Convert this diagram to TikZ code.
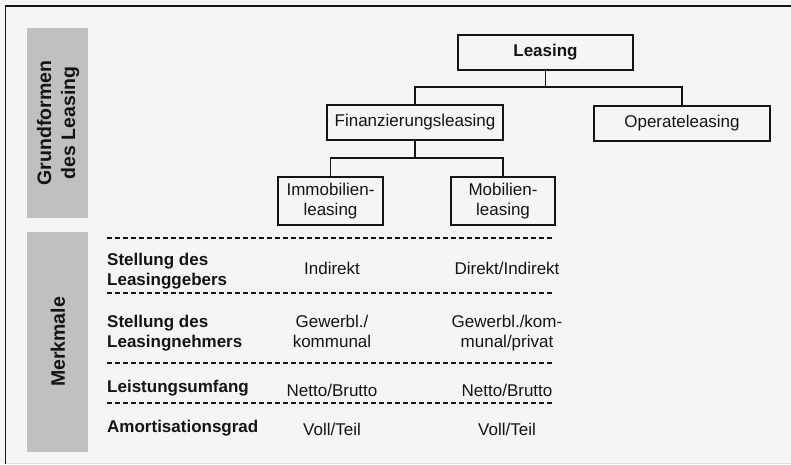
\documentclass[tikz,border=0pt]{standalone}
\usepackage{fontspec}
\setmainfont{Liberation Sans}
\usetikzlibrary{calc}
\definecolor{paper}{RGB}{245,245,245}
\definecolor{ink}{RGB}{20,20,20}
\definecolor{barfill}{RGB}{192,192,192}
\definecolor{faint}{RGB}{222,222,222}
\begin{document}
\begin{tikzpicture}[x=1pt,y=-1pt,
  txt/.style={font=\fontsize{17}{20}\selectfont, text=ink, inner sep=0pt, align=center},
  box/.style={txt, draw=ink, line width=1.3pt, rectangle, fill=paper},
  hd/.style={txt, font=\fontsize{17}{20}\selectfont\bfseries, align=left, anchor=west},
  side/.style={font=\fontsize{19.5}{24}\selectfont\bfseries, text=ink, rotate=90, align=center, inner sep=0pt},
  link/.style={draw=ink, line width=1.3pt},
  sep/.style={draw=ink, line width=1.4pt, dash pattern=on 5pt off 3pt},
]
% page and frame
\fill[paper] (0,0) rectangle (791,464);
\useasboundingbox (0,0) rectangle (791,464);
\draw[faint, line width=1pt] (5.5,463.5) -- (791,463.5);
\draw[ink, line width=1.8pt] (5.5,464) -- (5.5,5.8) -- (791,5.8);

% side bars
\fill[barfill] (27,28) rectangle (88,218);
\fill[barfill] (27,232) rectangle (88,452);
\node[side] (grund) at (58,123) {Grundformen\\des Leasing};
\node[side] (merk) at (58,342) {Merkmale};

% hierarchy
\node[box, font=\fontsize{17}{20}\selectfont\bfseries, minimum width=175pt, minimum height=35pt] (leasing) at (545.5,52.5) {Leasing};
\node[box, minimum width=176pt, minimum height=35pt] (fin) at (415,122.5) {Finanzierungsleasing};
\node[box, minimum width=176pt, minimum height=35pt] (op) at (682,123.5) {Operateleasing};
\node[box, minimum width=105pt, minimum height=48pt] (immo) at (330.5,201) {Immobilien-\\leasing};
\node[box, minimum width=104pt, minimum height=48pt] (mobi) at (503,201) {Mobilien-\\leasing};

\coordinate (busA) at (0,87);
\coordinate (busB) at (0,158);
\draw[link] (leasing.south) -- (leasing.south |- busA);
\draw[link] (fin.north) -- (fin.north |- busA) -- (op.north |- busA) -- (op.north);
\draw[link] (fin.south) -- (fin.south |- busB);
\draw[link] (immo.north) -- (immo.north |- busB) -- (mobi.north |- busB) -- (mobi.north);

% feature table
\draw[sep] (107,238) -- (552,238);
\draw[sep] (107,293) -- (552,293);
\draw[sep] (107,363) -- (552,363);
\draw[sep] (107,403) -- (552,403);

\node[hd] (r1) at (107,271) {Stellung des\\Leasinggebers};
\node[hd] (r2) at (107,333) {Stellung des\\Leasingnehmers};
\node[hd] (r3) at (107,388) {Leistungsumfang};
\node[hd] (r4) at (107,428) {Amortisationsgrad};

\node[txt] (a1) at (332,268) {Indirekt};
\node[txt] (a2) at (332,331.5) {Gewerbl./\\kommunal};
\node[txt] (a3) at (332,390) {Netto/Brutto};
\node[txt] (a4) at (332,429) {Voll/Teil};

\node[txt] (b1) at (507,268.5) {Direkt/Indirekt};
\node[txt] (b2) at (507,333) {Gewerbl./kom-\\munal/privat};
\node[txt] (b3) at (507,390) {Netto/Brutto};
\node[txt] (b4) at (507,429) {Voll/Teil};
\end{tikzpicture}
\end{document}
